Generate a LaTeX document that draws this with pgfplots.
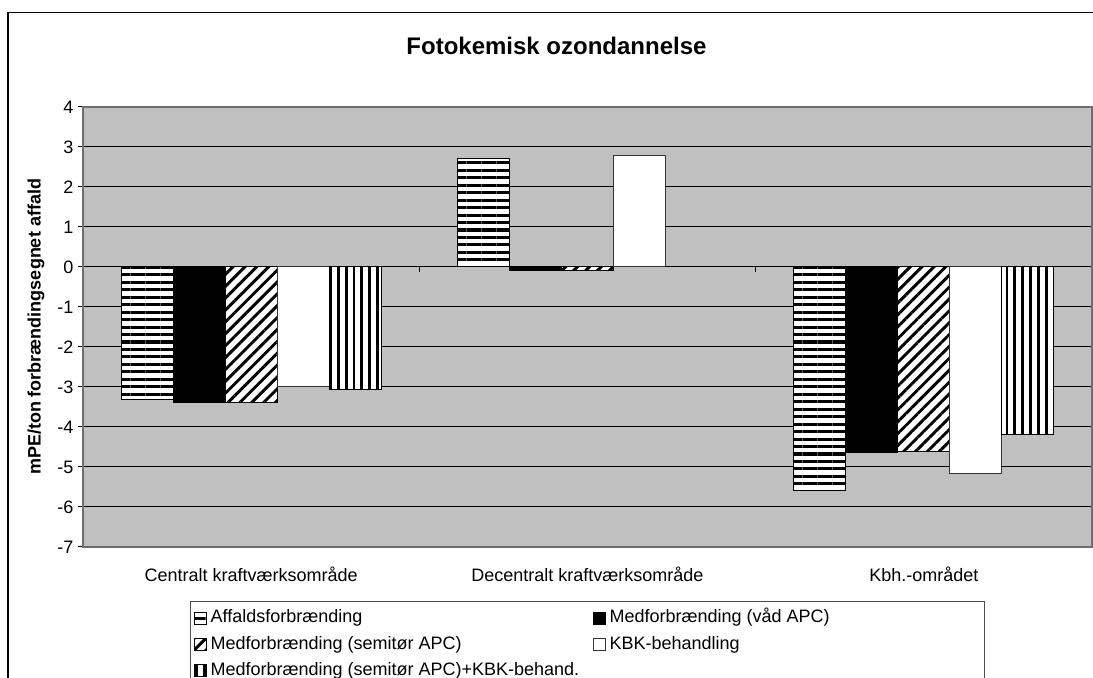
\documentclass[border=0pt]{standalone}
\usepackage{fontspec}
\setmainfont{Liberation Sans}
\usepackage{pgfplots}
\pgfplotsset{compat=1.18}
\usetikzlibrary{patterns.meta}

\definecolor{plotbg}{RGB}{192,192,192}
\definecolor{axgray}{RGB}{110,110,110}

% 1 px of the reference = 0.75pt
\tikzset{
  hpat/.style={pattern={Lines[angle=0,distance=5.6pt,line width=2.3pt]},pattern color=black},
  dpat/.style={pattern={Lines[angle=45,distance=6.3pt,line width=2.2pt]},pattern color=black},
  vpat/.style={pattern={Lines[angle=90,distance=5.9pt,line width=2.1pt]},pattern color=black},
}

\begin{document}
\begin{tikzpicture}
\path[use as bounding box] (-62.25pt,-98.25pt) rectangle (757.5pt,410.25pt);
\begin{scope}
\clip (-62.25pt,-98.25pt) rectangle (757.5pt,410.25pt);
\draw[black,line width=1pt] (-56.25pt,-150pt) rectangle (800pt,400.7pt);
\node[anchor=base,font=\bfseries\fontsize{18}{21}\selectfont] at (355.1pt,369pt) {Fotokemisk ozondannelse};
\draw[black!70,line width=0.75pt] (80.8pt,-41pt) rectangle (675.75pt,-150pt);

\begin{axis}[
  scale only axis,
  width=756.75pt, height=330pt,
  xmin=-0.5, xmax=2.5,
  ymin=-7, ymax=4,
  ytick={-7,-6,...,4},
  xtick={0,1,2},
  xticklabels={Centralt kraftværksområde,Decentralt kraftværksområde,Kbh.-området},
  x tick style={draw=none},
  y tick style={black,line width=0.75pt},
  tick align=outside,
  major tick length=3.75pt,
  ytick pos=left,
  ymajorgrids,
  grid style={black,line width=0.75pt},
  axis background/.style={fill=plotbg},
  axis line style={draw=axgray,line width=1.5pt},
  font=\fontsize{13.5}{16}\selectfont,
  /pgf/number format/assume math mode=true,
  xticklabel style={anchor=base,yshift=-22pt},
  ylabel={mPE/ton forbrændingsegnet affald},
  ylabel style={at={(axis description cs:-0.0466,0.5)},anchor=center,font=\bfseries\fontsize{13.5}{16}\selectfont},
  ybar=0pt, bar width=39pt,
  legend columns=2,
  legend style={at={(83.25pt,-45.75pt)},anchor=north west,draw=none,fill=none,inner sep=0pt,
    font=\fontsize{13.5}{16}\selectfont,
    nodes={inner sep=1pt,text height=10pt,text depth=3pt},
    row sep=4.6pt,
    /tikz/every odd column/.append style={column sep=1.5pt},
    /tikz/every even column/.append style={column sep=9.5pt}},
  legend cell align=left,
  legend image code/.code={\draw[#1] (0pt,-4.5pt) rectangle (9pt,4.5pt);},
]
\addplot[draw=black,line width=0.75pt,fill=white,postaction={hpat}] coordinates {(0,-3.31) (1,2.70) (2,-5.58)};
\addplot[draw=black,line width=0.75pt,fill=black] coordinates {(0,-3.38) (1,-0.09) (2,-4.63)};
\addplot[draw=black,line width=0.75pt,fill=white,postaction={dpat}] coordinates {(0,-3.38) (1,-0.08) (2,-4.62)};
\addplot[draw=black!80,line width=0.75pt,fill=white] coordinates {(0,-2.99) (1,2.79) (2,-5.16)};
\addplot[draw=black,line width=0.75pt,fill=white,postaction={vpat}] coordinates {(0,-3.06) (1,0.02) (2,-4.20)};
\legend{Affaldsforbrænding,Medforbrænding (våd APC),Medforbrænding (semitør APC),KBK-behandling,Medforbrænding (semitør APC)+KBK-behand.}
\draw[black,line width=0.75pt] (axis cs:0.5,0) -- ++(0pt,-3.75pt);
\draw[black,line width=0.75pt] (axis cs:1.5,0) -- ++(0pt,-3.75pt);
\end{axis}
\end{scope}
\end{tikzpicture}
\end{document}
